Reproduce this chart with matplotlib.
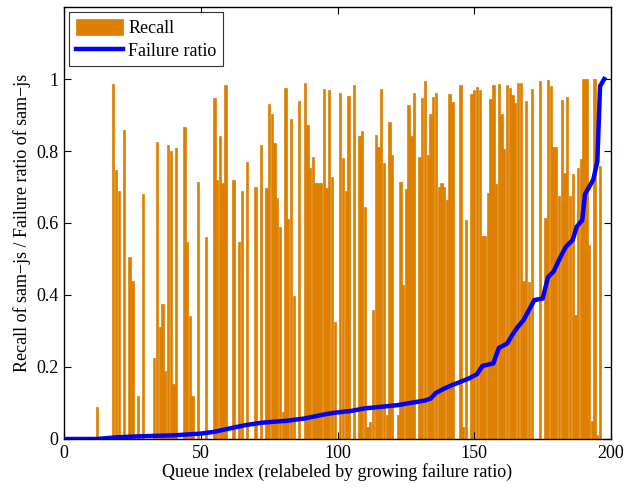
import matplotlib
matplotlib.use("Agg")
import matplotlib.pyplot as plt
import numpy as np

# recall per queue, index 0..196
recall = [
    0, 0, 0, 0, 0, 0, 0, 0, 0, 0,                                  # 0-9
    0, 0, 0.09, 0, 0, 0, 0, 0, 0.985, 0.747,                       # 10-19
    0.689, 0, 0.858, 0, 0.506, 0.44, 0, 0.12, 0, 0.68,             # 20-29
    0, 0, 0, 0.226, 0.824, 0.31, 0.375, 0.19, 0.816, 0.80,         # 30-39
    0.152, 0.808, 0, 0, 0.866, 0.548, 0.342, 0.12, 0, 0.713,       # 40-49
    0, 0, 0.562, 0, 0, 0.946, 0.72, 0.843, 0.71, 0.983,            # 50-59
    0, 0, 0.72, 0, 0.546, 0.689, 0, 0.77, 0, 0,                    # 60-69
    0.701, 0, 0.816, 0, 0.698, 0.93, 0.902, 0.821, 0.67, 0.59,     # 70-79
    0.076, 0.975, 0.61, 0.889, 0.397, 0, 0.938, 0, 0.989, 0.871,   # 80-89
    0.754, 0.782, 0.71, 0.71, 0.71, 0.973, 0.696, 0.97, 0.727, 0.326,  # 90-99
    0, 0.96, 0.781, 0.689, 0.953, 0, 0.982, 0, 0.842, 0.856,       # 100-109
    0.645, 0.034, 0.048, 0.358, 0.844, 0.81, 0.971, 0.766, 0.067, 0.88,  # 110-119
    0.789, 0, 0.067, 0.713, 0.428, 0.695, 0.928, 0.843, 0.96, 0,   # 120-129
    0.784, 0.948, 0.994, 0.789, 0.902, 0.95, 0.96, 0.70, 0.71, 0.70,  # 130-139
    0.664, 0.957, 0.937, 0, 0, 0.983, 0.034, 0.608, 0, 0.957,      # 140-149
    0.969, 0.977, 0.969, 0.564, 0.564, 0.682, 0.944, 0.983, 0.707, 0.986,  # 150-159
    0.902, 0.806, 0.983, 0.974, 0.956, 0.932, 0.99, 0.99, 0.44, 0.94,  # 160-169
    0.435, 0.972, 0, 0, 0.994, 0, 0.613, 0.997, 0.981, 0.81,       # 170-179
    0.81, 0.675, 0.942, 0.74, 0.951, 0.675, 0.736, 0.344, 0.752, 0.779,  # 180-189
    0.999, 0.999, 0.54, 0.05, 0.999, 0.01, 0.758,                  # 190-196
]

# failure ratio curve
fail_x = [0, 12, 20, 30, 40, 50, 55, 61, 66, 72, 82, 88, 95, 99, 105, 110,
          122, 132, 134, 136, 139, 142, 148, 151, 153, 157, 159, 162, 164,
          166, 168, 170.5, 172, 175, 177, 179, 181.5, 183.5, 186, 187.5,
          189.5, 190.5, 192, 193.5, 195, 196, 197.5]
fail_y = [0, 0, 0.005, 0.008, 0.01, 0.015, 0.02, 0.03, 0.038, 0.045, 0.051,
          0.057, 0.068, 0.073, 0.078, 0.085, 0.094, 0.107, 0.112, 0.128,
          0.14, 0.15, 0.168, 0.18, 0.203, 0.21, 0.253, 0.265, 0.29, 0.312,
          0.33, 0.365, 0.386, 0.39, 0.45, 0.465, 0.505, 0.534, 0.553, 0.59,
          0.608, 0.68, 0.70, 0.72, 0.77, 0.98, 1.0]

xticks = [0, 50, 100, 150, 200]
yticks = [0, 0.2, 0.4, 0.6, 0.8, 1]
ytick_labels = ["0", "0.2", "0.4", "0.6", "0.8", "1"]

plt.rcParams["font.family"] = ["Liberation Serif", "DejaVu Serif"]
plt.rcParams["font.size"] = 13

fig = plt.figure(figsize=(6.25, 4.87), dpi=100)
ax = fig.add_axes([0.1024, 0.0986, 0.8752, 0.887])

idx = np.arange(len(recall))
bars = ax.bar(idx, recall, width=0.85, color="#df7f00", edgecolor="#df7f00",
              linewidth=0.5, label="Recall")
line, = ax.plot(fail_x, fail_y, color="#0000ff", linewidth=3.2,
                label="Failure ratio")

ax.set_xlim(0, 200)
ax.set_ylim(0, 1.2)
ax.set_xticks(xticks)
ax.set_yticks(yticks)
ax.set_yticklabels(ytick_labels)
ax.tick_params(direction="in", top=True, right=True, length=5, width=0.8,
               labelsize=13, pad=4)
for s in ax.spines.values():
    s.set_linewidth(1.0)

ax.set_xlabel("Queue index (relabeled by growing failure ratio)", fontsize=13,
              labelpad=1)
ax.set_ylabel("Recall of sam\u2212js / Failure ratio of sam\u2212js", fontsize=13,
              labelpad=4)

leg = ax.legend([bars, line], ["Recall", "Failure ratio"], loc="upper left",
                fontsize=13, frameon=True, fancybox=False, edgecolor="black",
                borderpad=0.35, labelspacing=0.25, handlelength=2.6,
                handleheight=1.0, handletextpad=0.3, borderaxespad=0.3)
leg.get_frame().set_linewidth(0.8)

fig.savefig("out.png", dpi=100)
